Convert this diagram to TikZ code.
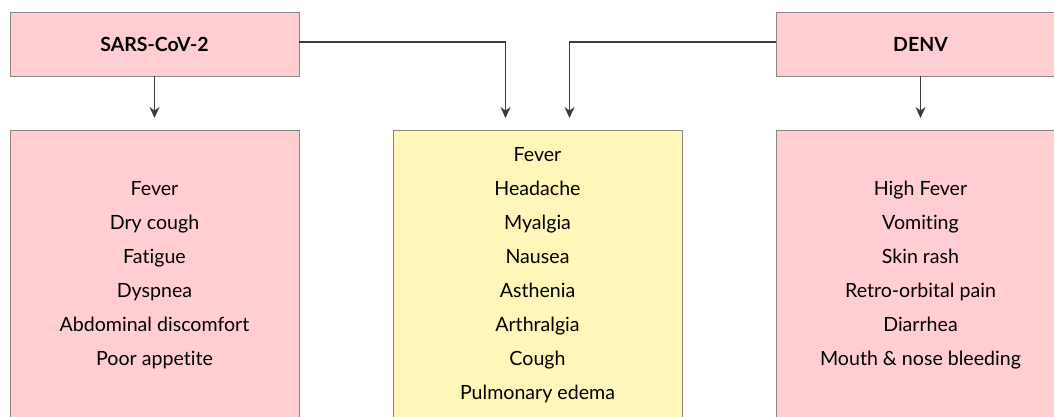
\documentclass[tikz,border=0pt]{standalone}
\usepackage{fontspec}
\setmainfont{Lato}[Ligatures=NoCommon]
\usetikzlibrary{positioning, arrows.meta}

\definecolor{virus_pink}{RGB}{255,205,210}
\definecolor{shared_yellow}{RGB}{255,246,186}
\definecolor{box_border}{RGB}{135,135,135}
\definecolor{arrow_gray}{RGB}{60,60,60}

\tikzset{
    virusbox/.style={draw=box_border, fill=virus_pink, rectangle, outer sep=0pt,
        minimum width=289pt, minimum height=64pt, font=\fontsize{19.5}{22}\selectfont\bfseries},
    symbox/.style={draw=box_border, rectangle, outer sep=0pt, align=center,
        minimum width=289pt, minimum height=290pt, font=\fontsize{19.6}{34}\selectfont},
}

\begin{document}
\begin{tikzpicture}[-{Stealth[length=11pt, width=10pt]}, x=1pt, y=-1pt]
    \useasboundingbox (0,0) rectangle (1054,416);
    \node[virusbox, anchor=north west] (sars) at (10,12) {SARS-CoV-2};
    \node[symbox, fill=virus_pink] (sars_symptoms) [below=54pt of sars]
        {Fever\\Dry cough\\Fatigue\\Dyspnea\\Abdominal discomfort\\Poor appetite};
    \node[symbox, fill=shared_yellow] (shared_symptoms) [right=94pt of sars_symptoms]
        {Fever\\Headache\\Myalgia\\Nausea\\Asthenia\\Arthralgia\\Cough\\Pulmonary edema};
    \node[symbox, fill=virus_pink] (denv_symptoms) [right=94pt of shared_symptoms]
        {High Fever\\Vomiting\\Skin rash\\Retro-orbital pain\\Diarrhea\\Mouth \& nose bleeding};
    \node[virusbox] (denv) [above=54pt of denv_symptoms] {DENV};

    \coordinate (shared_left) at ([xshift=-32pt]shared_symptoms.north);
    \coordinate (shared_right) at ([xshift=32pt]shared_symptoms.north);

    \begin{scope}[draw=arrow_gray, line width=1.5pt, shorten >=12pt]
        \draw (sars) -- (sars_symptoms);
        \draw (denv) -- (denv_symptoms);
        \draw ([yshift=2pt]sars.east) -| (shared_left);
        \draw ([yshift=2pt]denv.west) -| (shared_right);
    \end{scope}
\end{tikzpicture}
\end{document}
